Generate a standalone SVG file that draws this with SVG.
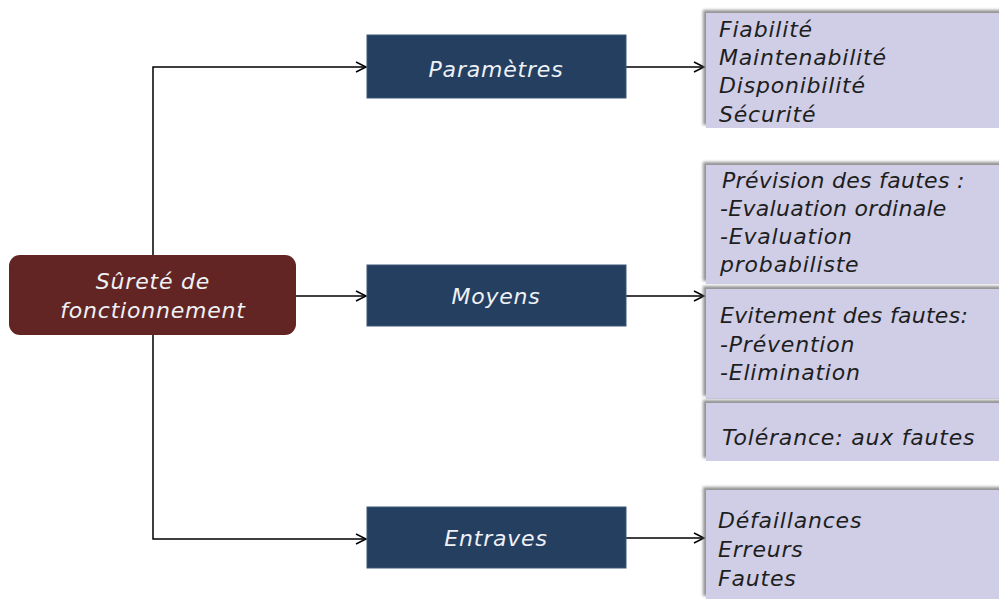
<svg xmlns="http://www.w3.org/2000/svg" width="999" height="602" viewBox="0 0 999 602">
<style>
text{font-family:"DejaVu Sans","Liberation Sans",sans-serif;font-style:italic;font-size:22px;letter-spacing:0.8px}
.lt{fill:#eef1f6;text-anchor:middle}
.dk{fill:#1e1e1e}
.mid{fill:#243f60;stroke:#3b5679;stroke-width:1}
.lst{fill:#cfcee6;filter:url(#sh)}
.con{fill:none;stroke:#000;stroke-width:1.5}
.tight{letter-spacing:0.3px}
</style>
<defs>
<filter id="sh" x="-5%" y="-10%" width="110%" height="120%">
<feGaussianBlur in="SourceAlpha" stdDeviation="1.6" result="b"/>
<feOffset in="b" dx="-3" dy="-3" result="o"/>
<feFlood flood-color="#707070" flood-opacity="0.75"/>
<feComposite in2="o" operator="in" result="s"/>
<feMerge><feMergeNode in="s"/><feMergeNode in="SourceGraphic"/></feMerge>
</filter>
<marker id="ar" markerUnits="userSpaceOnUse" markerWidth="14" markerHeight="14" refX="11" refY="6" orient="auto">
<path d="M1,1 L11,6 L1,11" fill="none" stroke="#000" stroke-width="1.5"/>
</marker>
</defs>
<rect width="999" height="602" fill="#fff"/>
<g id="connectors">
<path class="con" d="M153,255 V67 H366" marker-end="url(#ar)"/>
<path class="con" d="M296,296 H366" marker-end="url(#ar)"/>
<path class="con" d="M153,335 V539 H366" marker-end="url(#ar)"/>
<path class="con" d="M626,67 H704" marker-end="url(#ar)"/>
<path class="con" d="M626,296 H704" marker-end="url(#ar)"/>
<path class="con" d="M626,538 H704" marker-end="url(#ar)"/>
</g>
<g id="root">
<rect x="9" y="255" width="287" height="80" rx="11" fill="#632523"/>
<text class="lt" x="153" y="289">Sûreté de</text>
<text class="lt" x="153" y="318">fonctionnement</text>
</g>
<g id="parametres">
<rect class="mid" x="367" y="35" width="259" height="63"/>
<text class="lt" x="496" y="77">Paramètres</text>
</g>
<g id="moyens">
<rect class="mid" x="367" y="265" width="259" height="61"/>
<text class="lt" x="496" y="304">Moyens</text>
</g>
<g id="entraves">
<rect class="mid" x="367" y="507" width="259" height="61"/>
<text class="lt" x="496" y="546">Entraves</text>
</g>
<g id="liste-parametres">
<rect class="lst" x="706" y="13" width="300" height="115"/>
<text class="dk" x="719" y="37">Fiabilité</text>
<text class="dk" x="719" y="65">Maintenabilité</text>
<text class="dk" x="719" y="93">Disponibilité</text>
<text class="dk" x="719" y="122">Sécurité</text>
</g>
<g id="prevision">
<rect class="lst" x="706" y="165" width="300" height="119"/>
<text class="dk tight" x="722" y="188">Prévision des fautes :</text>
<text class="dk tight" x="720" y="216">-Evaluation ordinale</text>
<text class="dk" x="720" y="244">-Evaluation</text>
<text class="dk" x="720" y="272">probabiliste</text>
</g>
<g id="evitement">
<rect class="lst" x="706" y="289" width="300" height="110"/>
<text class="dk tight" x="720" y="323">Evitement des fautes:</text>
<text class="dk" x="720" y="352">-Prévention</text>
<text class="dk" x="720" y="380">-Elimination</text>
</g>
<g id="tolerance">
<rect class="lst" x="706" y="403" width="300" height="58"/>
<text class="dk" x="722" y="445">Tolérance: aux fautes</text>
</g>
<g id="liste-entraves">
<rect class="lst" x="706" y="490" width="300" height="109"/>
<text class="dk" x="718" y="528">Défaillances</text>
<text class="dk" x="718" y="557">Erreurs</text>
<text class="dk" x="718" y="586">Fautes</text>
</g>
</svg>
